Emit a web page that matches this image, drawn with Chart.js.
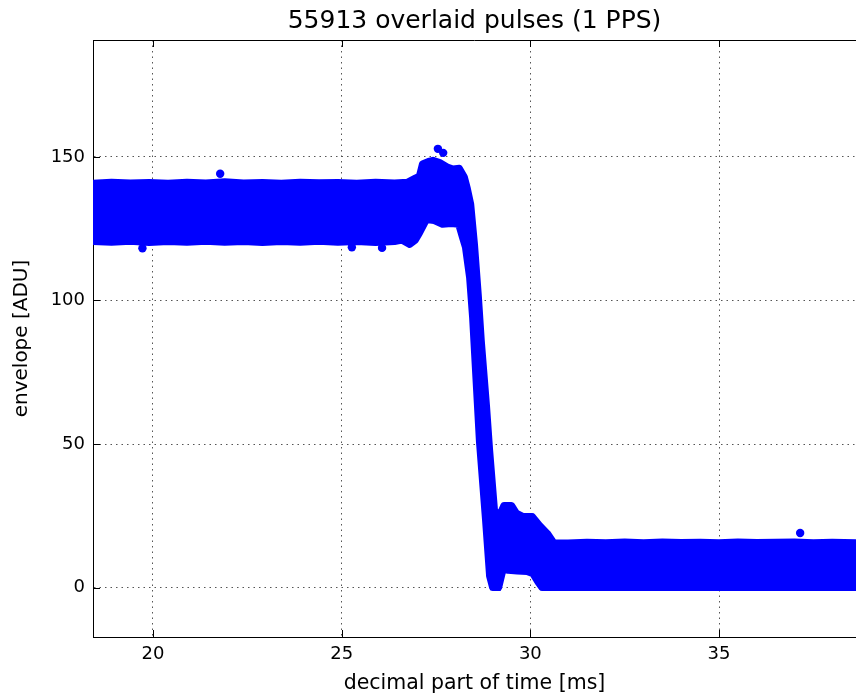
<!DOCTYPE html>
<html>
<head>
<meta charset="utf-8">
<title>55913 overlaid pulses</title>
<script src="https://cdn.jsdelivr.net/npm/chart.js@4.4.0/dist/chart.umd.min.js"></script>
<style>
  html, body { margin: 0; padding: 0; background: #ffffff; }
  canvas { display: block; }
</style>
</head>
<body>
<canvas id="pulses" width="856" height="697"></canvas>
<script>
// Envelope of the overlaid pulses (centres of the outer dots)
const upperTime = [18.41, 18.9, 19.4, 19.9, 20.4, 20.9, 21.4, 21.9, 22.4, 22.9, 23.4, 23.9, 24.4, 24.9,
  25.4, 25.9, 26.4, 26.75, 26.95, 27.06, 27.14, 27.30, 27.42, 27.60, 27.80, 27.95, 28.12, 28.25,
  28.33, 28.42, 28.52, 28.62, 28.70, 28.84, 28.92, 29.05, 29.17, 29.30, 29.50, 29.63, 29.80, 30.05,
  30.24, 30.45, 30.62, 31.0, 31.5, 32.0, 32.5, 33.0, 33.5, 34.0, 34.5, 35.0, 35.5, 36.0, 36.5,
  37.0, 37.5, 38.0, 38.63];
const upperAdu = [140.8, 141.2, 140.9, 141.1, 140.8, 141.2, 140.9, 141.3, 140.9, 141.1, 140.8, 141.2, 141.0, 141.1,
  140.8, 141.2, 140.9, 141.2, 142.6, 143.3, 147.5, 148.4, 148.8, 148.0, 146.5, 145.8, 146.0, 143.0,
  139.0, 133.5, 119.5, 102.0, 86.0, 63.0, 48.0, 27.0, 24.8, 28.6, 28.6, 25.9, 24.8, 24.8,
  21.7, 18.9, 15.6, 15.5, 15.8, 15.6, 15.9, 15.6, 15.9, 15.7, 15.8, 15.6, 15.9, 15.7, 15.8,
  15.9, 15.6, 15.8, 15.6];

const lowerTime = [18.41, 18.9, 19.4, 19.9, 20.4, 20.9, 21.4, 21.9, 22.4, 22.9, 23.4, 23.9, 24.4, 24.9,
  25.4, 25.9, 26.4, 26.6, 26.80, 26.95, 27.06, 27.25, 27.45, 27.67, 27.90, 28.10, 28.20, 28.28,
  28.39, 28.47, 28.65, 28.81, 28.92, 29.00, 29.16, 29.28, 29.41, 29.65, 29.91, 30.07, 30.20, 30.31,
  38.63];
const lowerAdu = [120.5, 120.3, 120.6, 120.2, 120.5, 120.3, 120.6, 120.3, 120.5, 120.2, 120.5, 120.3, 120.6, 120.3,
  120.5, 120.2, 120.5, 121.0, 119.5, 121.0, 123.4, 128.2, 127.8, 126.5, 126.8, 126.5, 122.0, 118.5,
  108.0, 94.0, 51.0, 24.0, 4.0, 0, 0, 6.5, 6.0, 5.8, 5.6, 4.8, 2.0, 0,
  0];

// single pulses sticking out of the band
const strayTime = [19.72, 21.78, 25.27, 26.07, 27.55, 27.69, 37.15];
const strayAdu = [118.2, 144.1, 118.5, 118.3, 152.8, 151.4, 19.0];

const xTicks = [20, 25, 30, 35];
const yTicks = [0, 50, 100, 150];

const BLUE = '#0000ff';
const FONT = "'DejaVu Sans', sans-serif";

const toPoints = (xs, ys) => xs.map((x, i) => ({ x: x, y: ys[i] }));

// matplotlib-style frame: top spine and ticks pointing into the axes
const framePlugin = {
    id: 'frame',
    afterDraw: (chart) => {
        const { ctx, chartArea: a, scales } = chart;
        ctx.save();
        ctx.strokeStyle = '#000000';
        ctx.lineWidth = 1;
        ctx.beginPath();
        ctx.moveTo(a.left, a.top + 0.5);
        ctx.lineTo(a.right, a.top + 0.5);
        scales.x.ticks.forEach(t => {
            const px = Math.round(scales.x.getPixelForValue(t.value)) + 0.5;
            ctx.moveTo(px, a.bottom);
            ctx.lineTo(px, a.bottom - 7);
            ctx.moveTo(px, a.top);
            ctx.lineTo(px, a.top + 7);
        });
        scales.y.ticks.forEach(t => {
            const py = Math.round(scales.y.getPixelForValue(t.value)) + 0.5;
            ctx.moveTo(a.left, py);
            ctx.lineTo(a.left + 7, py);
        });
        ctx.stroke();
        ctx.restore();
    }
};

const edge = {
    showLine: true,
    borderColor: BLUE,
    backgroundColor: BLUE,
    borderWidth: 7,
    borderJoinStyle: 'round',
    borderCapStyle: 'round',
    pointRadius: 0,
    tension: 0
};

new Chart(document.getElementById('pulses').getContext('2d'), {
    type: 'scatter',
    data: {
        datasets: [
            Object.assign({ label: 'upper', data: toPoints(upperTime, upperAdu), fill: '+1' }, edge),
            Object.assign({ label: 'lower', data: toPoints(lowerTime, lowerAdu), fill: false }, edge),
            {
                label: 'stray',
                data: toPoints(strayTime, strayAdu),
                showLine: false,
                pointRadius: 4.2,
                pointBackgroundColor: BLUE,
                pointBorderWidth: 0
            }
        ]
    },
    options: {
        responsive: false,
        animation: false,
        layout: { padding: 0, autoPadding: false },
        plugins: {
            legend: { display: false },
            tooltip: { enabled: false },
            title: {
                display: true,
                fullSize: false,
                text: '55913 overlaid pulses (1 PPS)',
                color: '#000000',
                font: { size: 25, weight: 'normal', family: FONT },
                padding: { top: 6, bottom: 4 }
            }
        },
        scales: {
            x: {
                type: 'linear',
                min: 18.41,
                max: 38.63,
                z: 1,
                afterBuildTicks: (scale) => { scale.ticks = xTicks.map(v => ({ value: v })); },
                afterFit: (scale) => {
                    scale.height = 60;
                    scale.paddingLeft = 0;
                    scale.paddingRight = 0;
                },
                grid: { color: '#555555', lineWidth: 1, drawTicks: false },
                border: { display: true, color: '#000000', width: 1, dash: [1.5, 4] },
                ticks: {
                    color: '#000000',
                    padding: 7,
                    maxRotation: 0,
                    font: { size: 18, family: FONT }
                },
                title: {
                    display: true,
                    text: 'decimal part of time [ms]',
                    color: '#000000',
                    font: { size: 20.5, family: FONT },
                    padding: { top: 0, bottom: 1 }
                }
            },
            y: {
                type: 'linear',
                min: -17.2,
                max: 190.7,
                z: 1,
                afterBuildTicks: (scale) => { scale.ticks = yTicks.map(v => ({ value: v })); },
                afterFit: (scale) => {
                    scale.width = 93;
                    scale.paddingTop = 0;
                    scale.paddingBottom = 0;
                },
                grid: { color: '#555555', lineWidth: 1, drawTicks: false },
                border: { display: true, color: '#000000', width: 1, dash: [1.5, 4] },
                ticks: {
                    color: '#000000',
                    padding: 8,
                    font: { size: 18, family: FONT }
                },
                title: {
                    display: true,
                    text: 'envelope [ADU]',
                    color: '#000000',
                    font: { size: 20, family: FONT },
                    padding: { top: 10, bottom: 0 }
                }
            }
        }
    },
    plugins: [framePlugin]
});
</script>
</body>
</html>
